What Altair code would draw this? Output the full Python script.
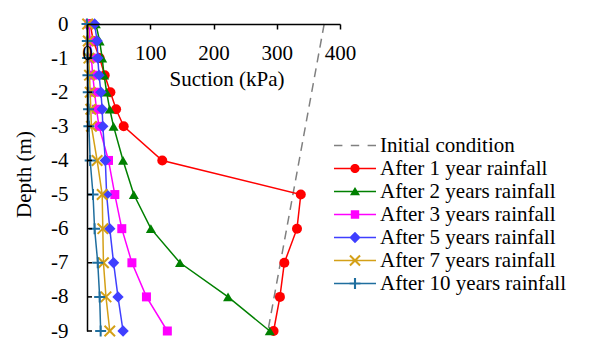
import altair as alt
import pandas as pd

# ---------------- data ----------------
depths = [0, -0.5, -1, -1.5, -2, -2.5, -3, -4, -5, -6, -7, -8, -9]
yr1 = [5, 10, 20, 28, 37, 46, 58, 119, 338, 332, 312, 305, 295]
yr2 = [14, 20, 24, 27, 31, 36, 42, 57, 74, 101, 147, 223, 289]
yr3 = [3, 5, 7, 9, 12, 15, 19, 34, 44, 55, 71, 94, 127]
yr5 = [12, 16, 17, 19, 22, 24, 25, 29, 31, 36, 42, 49, 57]
yr7 = [1, 2, 3, 4, 5, 6, 7, 16, 24, 25, 26, 30, 36]
yr10 = [0, 0.5, 1, 1.5, 2, 2.5, 3, 5, 9.5, 12, 17, 20, 21.6]
init_depth = [0, -9]
init_suction = [375, 286]

names = ["Initial condition", "After 1 year rainfall", "After 2 years rainfall",
         "After 3 years rainfall", "After 5 years rainfall", "After 7 years rainfall",
         "After 10 years rainfall"]
colors = ["#808080", "#FF0000", "#008000", "#FF00FF", "#3F3FFF", "#D4A017", "#1F6E9E"]
y_ticks = [-1, -2, -3, -4, -5, -6, -7, -8, -9]

# ---------------- tables ----------------
rows = []
for i, (d, s) in enumerate(zip(init_depth, init_suction)):
    rows.append({"series": names[0], "depth": d, "suction": s, "idx": i})
for name, vals in zip(names[1:], [yr1, yr2, yr3, yr5, yr7, yr10]):
    for i, (d, s) in enumerate(zip(depths, vals)):
        rows.append({"series": name, "depth": d, "suction": s, "idx": i})
df = pd.DataFrame(rows)
ticks_df = pd.DataFrame({"depth": y_ticks})

W, H = 253, 307
FONT = "Liberation Serif"
FS = 21

x_enc = alt.X("suction:Q", scale=alt.Scale(domain=[0, 400], nice=False),
              axis=alt.Axis(orient="bottom", offset=-H, values=[0, 100, 200, 300, 400],
                            tickSize=5, tickColor="black", tickWidth=1.5,
                            domainColor="black", domainWidth=1.5, grid=False,
                            labelFont=FONT, labelFontSize=FS, labelColor="black",
                            labelBaseline="alphabetic", labelPadding=30,
                            labelOverlap=False, labelFlush=False, labelBound=False,
                            title="Suction (kPa)", titleFont=FONT, titleFontSize=FS,
                            titleFontWeight="normal", titleColor="black",
                            titleX=139.5, titleY=61, titleAlign="center",
                            titleBaseline="alphabetic", zindex=1))
y_enc = alt.Y("depth:Q", scale=alt.Scale(domain=[-9, 0], nice=False),
              axis=alt.Axis(values=list(range(-9, 1)), tickSize=0,
                            domainColor="black", domainWidth=1.5, grid=False,
                            labelFont=FONT, labelFontSize=FS, labelColor="black",
                            labelPadding=19, labelExpr="'' + datum.value",
                            labelOverlap=False, labelFlush=False, labelBound=False,
                            title="Depth (m)", titleFont=FONT, titleFontSize=FS,
                            titleFontWeight="normal", titleColor="black",
                            titleAngle=270, titleX=-63, titleY=150,
                            titleAlign="center", titleBaseline="middle", zindex=1))

base = alt.Chart(df)
layers = []

# initial condition dashed line
layers.append(base.transform_filter(alt.datum.series == names[0]).mark_line(
    color=colors[0], strokeWidth=1.5, strokeDash=[9, 6]).encode(
    x=x_enc, y=y_enc, order="idx:Q"))

marker_specs = [
    dict(shape="circle", filled=True, size=100),
    dict(shape="triangle-up", filled=True, size=100),
    dict(shape="square", filled=True, size=81),
    dict(shape="diamond", filled=True, size=130),
    dict(shape="M-1,-1L1,1M-1,1L1,-1", filled=False, size=110, strokeWidth=2),
    dict(shape="M-1,0L1,0M0,-1L0,1", filled=False, size=121, strokeWidth=2),
]
for name, col, ms in zip(names[1:], colors[1:], marker_specs):
    sub = base.transform_filter(alt.datum.series == name)
    layers.append(sub.mark_line(color=col, strokeWidth=1.5).encode(
        x=x_enc, y=y_enc, order="idx:Q"))
    layers.append(sub.mark_point(color=col, opacity=1, **ms).encode(x=x_enc, y=y_enc))

# inward y-axis ticks
layers.append(alt.Chart(ticks_df).mark_rule(color="black", strokeWidth=1.5).encode(
    y=y_enc, x=alt.value(0), x2=alt.value(5)))

# legend layer (no marks drawn, only the legend)
L = "M-1,-0.036H1V0.036H-1Z"
legend_paths = [
    "M-1,-0.04H-0.6V0.04H-1Z M-0.2,-0.04H0.2V0.04H-0.2Z M0.6,-0.04H1V0.04H0.6Z",
    L + " M0.22,0A0.22,0.22 0 1,1 -0.22,0A0.22,0.22 0 1,1 0.22,0Z",
    L + " M0,-0.22L0.24,0.18L-0.24,0.18Z",
    L + " M-0.2,-0.2H0.2V0.2H-0.2Z",
    L + " M0,-0.27L0.27,0L0,0.27L-0.27,0Z",
    L + " M-0.206,-0.274L0.274,0.206L0.206,0.274L-0.274,-0.206Z"
        " M-0.274,0.206L0.206,-0.274L0.274,-0.206L-0.206,0.274Z",
    L + " M-0.26,-0.05H0.26V0.05H-0.26Z M-0.05,-0.26H0.05V0.26H-0.05Z",
]
legend = alt.Legend(orient="none", legendX=247, legendY=110, title=None,
                    clipHeight=23, rowPadding=0, symbolSize=1764, symbolStrokeWidth=0,
                    labelFont=FONT, labelFontSize=FS, labelColor="black",
                    labelLimit=0, labelOffset=4)
layers.append(base.transform_filter("false").mark_point(
    filled=True, opacity=1, size=1764).encode(
    x=x_enc, y=y_enc,
    color=alt.Color("series:N", scale=alt.Scale(domain=names, range=colors), legend=legend),
    shape=alt.Shape("series:N", scale=alt.Scale(domain=names, range=legend_paths), legend=legend)))

chart = alt.layer(*layers).properties(
    width=W, height=H,
    view=alt.ViewBackground(stroke=None),
)

chart.save("out.html", embed_options={"renderer": "svg", "actions": False})
